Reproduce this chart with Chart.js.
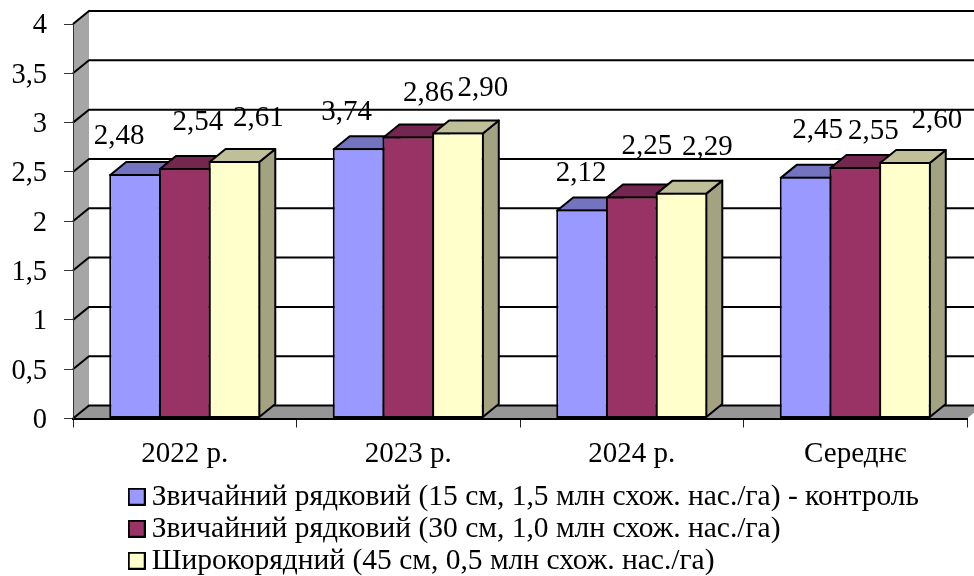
<!DOCTYPE html>
<html><head><meta charset="utf-8">
<style>html,body{margin:0;padding:0;background:#fff}canvas{display:block}</style>
<script src="https://cdn.jsdelivr.net/npm/chart.js@4"></script>
</head><body><canvas id="c" width="974" height="576"></canvas>
<script>
const categories = ['2022 р.', '2023 р.', '2024 р.', 'Середнє'];
const seriesNames = [
  'Звичайний рядковий (15 см, 1,5 млн схож. нас./га) - контроль',
  'Звичайний рядковий (30 см, 1,0 млн схож. нас./га)',
  'Широкорядний (45 см, 0,5 млн схож. нас./га)'
];
const series1 = [2.48, 2.74, 2.12, 2.45];
const series2 = [2.54, 2.86, 2.25, 2.55];
const series3 = [2.61, 2.90, 2.29, 2.60];
const labels1 = ['2,48', '3,74', '2,12', '2,45'];
const labels2 = ['2,54', '2,86', '2,25', '2,55'];
const labels3 = ['2,61', '2,90', '2,29', '2,60'];
const frontColors = ['#9999FF', '#993366', '#FFFFCC'];
const topColors = ['#7373BF', '#732650', '#BFBF99'];
const sideColors = ['#6B6BB3', '#6B2447', '#A3A382'];

const DX = 16, DY = 13;
const FONT = '"Liberation Serif", "Times New Roman", serif';
const labelSets = [labels1, labels2, labels3];
const labelShift = [
  [[-16,-38],[-12,-36],[-1,-36],[12,-46]],
  [[13,-46],[20,-43],[15,-50],[18,-36]],
  [[24,-43],[25,-44],[26,-45],[32,-42]]
];

function swatch(color) {
  const s = document.createElement('canvas');
  s.width = 18; s.height = 18;
  const g = s.getContext('2d');
  g.fillStyle = color; g.fillRect(1, 1, 16, 16);
  g.strokeStyle = '#000'; g.lineWidth = 2; g.strokeRect(1, 1, 16, 16);
  return s;
}
function poly(ctx, pts, fill, stroke, lw) {
  ctx.beginPath();
  pts.forEach((p, i) => i ? ctx.lineTo(p[0], p[1]) : ctx.moveTo(p[0], p[1]));
  ctx.closePath();
  if (fill) { ctx.fillStyle = fill; ctx.fill(); }
  if (stroke) { ctx.strokeStyle = stroke; ctx.lineWidth = lw; ctx.lineJoin = 'round'; ctx.stroke(); }
}

const box3d = {
  id: 'box3d',
  afterLayout(chart) {
    const lg = chart.legend;
    lg.left = 134; lg.right = 974; lg.top = 479.5;
    lg.draw = function () { this._draw(); };
    chart.scales.y.getLabelItems().forEach(item => { item.options.translation[1] += 2; });
  },
  beforeDraw(chart) {
    const ctx = chart.ctx, a = chart.chartArea, y = chart.scales.y;
    ctx.save();
    poly(ctx, [[a.left, a.top], [a.left + DX, a.top - DY], [a.left + DX, a.bottom - DY], [a.left, a.bottom]], '#A6A6A6');
    poly(ctx, [[a.left, a.bottom], [a.left + DX, a.bottom - DY], [a.right + DX, a.bottom - DY], [a.right, a.bottom]], '#969696');
    ctx.strokeStyle = '#000'; ctx.lineWidth = 2;
    y.ticks.forEach(t => {
      const py = y.getPixelForValue(t.value);
      ctx.beginPath();
      ctx.moveTo(a.left, py); ctx.lineTo(a.left + DX, py - DY); ctx.lineTo(a.right + DX, py - DY);
      ctx.stroke();
    });
    ctx.restore();
  },
  beforeDatasetsDraw(chart) {
    const ctx = chart.ctx;
    ctx.save();
    categories.forEach((_, i) => {
      chart.data.datasets.forEach((ds, d) => {
        const b = chart.getDatasetMeta(d).data[i];
        const l = b.x - b.width / 2 + 1, r = b.x + b.width / 2 - 1, t = b.y + 1, f = b.base - 1;
        poly(ctx, [[r, t], [r + DX, t - DY], [r + DX, f - DY], [r, f]], sideColors[d], '#000', 2);
        poly(ctx, [[l, t], [l + DX, t - DY], [r + DX, t - DY], [r, t]], topColors[d], '#000', 2);
      });
    });
    ctx.restore();
  },
  afterDatasetsDraw(chart) {
    const ctx = chart.ctx;
    ctx.save();
    ctx.font = '29px ' + FONT;
    ctx.fillStyle = '#000'; ctx.textAlign = 'center'; ctx.textBaseline = 'middle';
    labelSets.forEach((set, d) => set.forEach((txt, i) => {
      const b = chart.getDatasetMeta(d).data[i];
      ctx.fillText(txt, b.x + labelShift[d][i][0], b.y + labelShift[d][i][1]);
    }));
    ctx.restore();
  }
};

new Chart(document.getElementById('c'), {
  type: 'bar',
  data: {
    labels: categories,
    datasets: [series1, series2, series3].map((v, d) => ({
      label: seriesNames[d], data: v,
      backgroundColor: frontColors[d], borderColor: '#000', borderWidth: 2, borderSkipped: false,
      barPercentage: 1.04, categoryPercentage: 0.667
    }))
  },
  options: {
    responsive: false, animation: false,
    layout: { padding: { top: 24, right: 7, left: 0, bottom: 0 } },
    scales: {
      x: {
        offset: true,
        afterFit: s => { s.height = 51.5; s.paddingLeft = 0; s.paddingRight = 0; },
        grid: { drawOnChartArea: false, color: '#222', lineWidth: 1, tickLength: 9 },
        border: { color: '#000', width: 2 },
        ticks: { color: '#000', font: { family: FONT, size: 29 }, padding: 9, maxRotation: 0, autoSkip: false }
      },
      y: {
        min: 0, max: 4,
        afterFit: s => { s.width = 73; s.paddingTop = 0; s.paddingBottom = 0; },
        grid: { drawOnChartArea: false, color: '#333', lineWidth: 1, tickLength: 9 },
        border: { color: '#333', width: 1 },
        ticks: { stepSize: 0.5, color: '#000', font: { family: FONT, size: 28.5 }, padding: 17,
          callback: v => String(v).replace('.', ',') }
      }
    },
    plugins: {
      tooltip: { enabled: false },
      legend: {
        position: 'bottom', align: 'start',
        labels: {
          color: '#000', font: { family: FONT, size: 29.5 }, padding: 2.5,
          usePointStyle: true, pointStyleWidth: 0.5, boxHeight: 14,
          generateLabels: c => c.data.datasets.map((ds, d) => ({
            text: ds.label, pointStyle: swatch(frontColors[d]), fillStyle: frontColors[d],
            strokeStyle: '#000', lineWidth: 2, datasetIndex: d, hidden: false
          }))
        }
      }
    }
  },
  plugins: [box3d]
});
</script></body></html>
